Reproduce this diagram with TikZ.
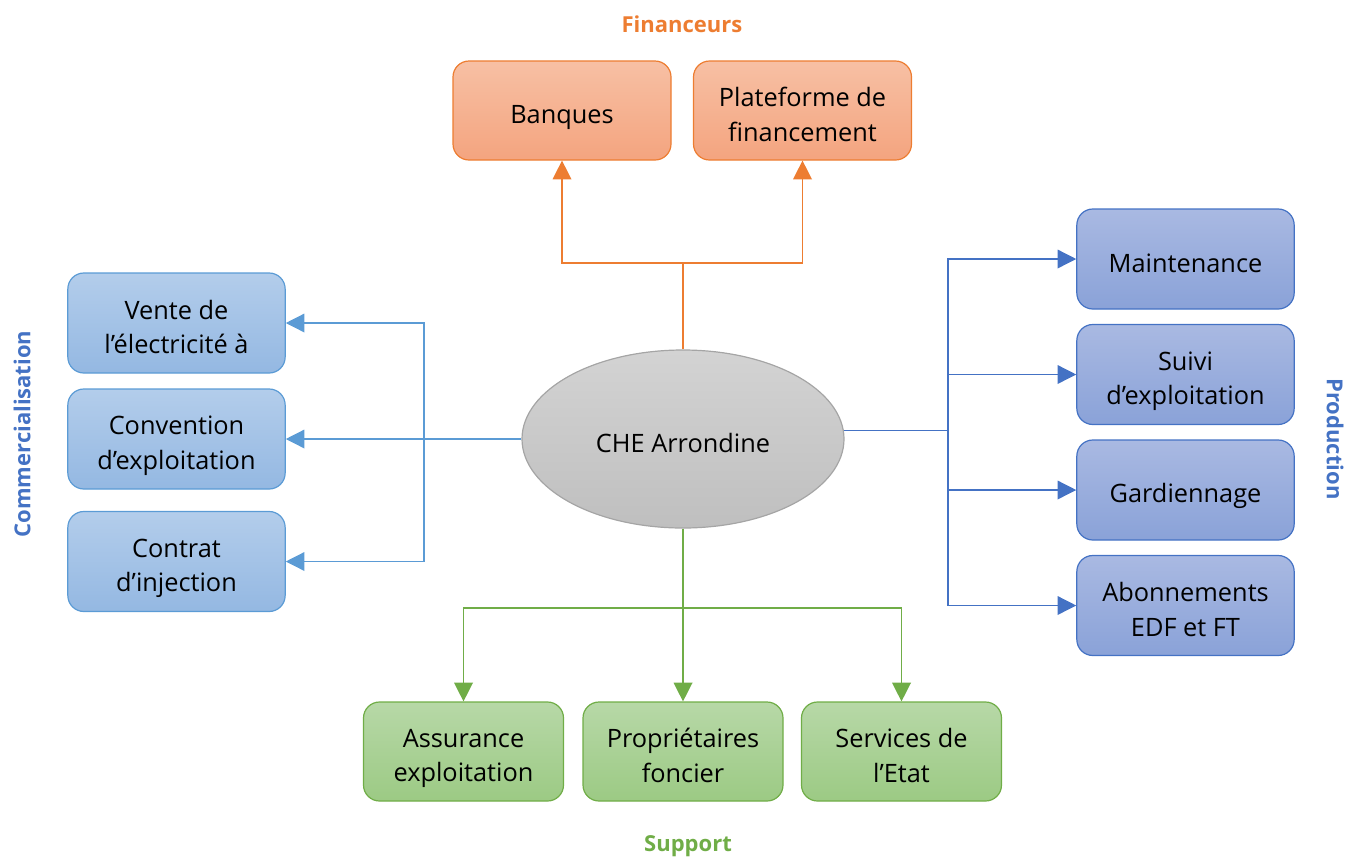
\documentclass[tikz,border=0pt]{standalone}
\usepackage{fontspec}
\setmainfont{Open Sans}
\usetikzlibrary{shapes.geometric,arrows.meta}
\definecolor{orB}{HTML}{ED7D31}
\definecolor{orT}{HTML}{F7C0A4}
\definecolor{orD}{HTML}{F4A47F}
\definecolor{lbB}{HTML}{5B9BD5}
\definecolor{lbT}{HTML}{B3CDEB}
\definecolor{lbD}{HTML}{94B8E2}
\definecolor{rbB}{HTML}{4472C4}
\definecolor{rbT}{HTML}{A9B9E2}
\definecolor{rbD}{HTML}{8AA2D8}
\definecolor{grB}{HTML}{70AD47}
\definecolor{grT}{HTML}{B7D8A7}
\definecolor{grD}{HTML}{9CCA84}
\definecolor{gyB}{HTML}{A5A5A5}
\definecolor{gyT}{HTML}{D3D3D3}
\definecolor{gyD}{HTML}{BFBFBF}
\definecolor{ttlB}{HTML}{4472C4}
\newcommand{\tst}{\rule{0pt}{24pt}}
\newcommand{\bst}{\rule[-4pt]{0pt}{4pt}}
\begin{document}
\begin{tikzpicture}[x=0.75pt,y=-0.75pt,
  box/.style={rounded corners=12pt, draw, line width=0.9pt, align=center,
    font=\fontsize{19}{26}\selectfont, inner sep=0pt},
  orbox/.style={box, draw=orB, top color=orT, bottom color=orD, minimum width=163.5pt, minimum height=74.25pt},
  lbbox/.style={box, draw=lbB, top color=lbT, bottom color=lbD, minimum width=163pt, minimum height=75pt},
  rbbox/.style={box, draw=rbB, top color=rbT, bottom color=rbD, minimum width=163pt, minimum height=75pt},
  grbox/.style={box, draw=grB, top color=grT, bottom color=grD, minimum width=150pt, minimum height=74.25pt},
  ttl/.style={font=\fontsize{16.5}{20}\selectfont\bfseries},
  conn/.style={line width=1pt},
  arr/.style={conn, -{Triangle[length=14pt,width=14pt]}}
]
\useasboundingbox (0,0) rectangle (1346,858);

% center
\node[ellipse, draw=gyB, line width=0.9pt, top color=gyT, bottom color=gyD,
  minimum width=241.5pt, minimum height=133.5pt, inner sep=0pt,
  font=\fontsize{19}{26}\selectfont] (che) at (683,439) {\tst CHE Arrondine\bst};

% Financeurs
\node[ttl, text=orB] (tfin) at (682,24) {Financeurs};
\node[orbox] (banq) at (562,110.5) {\tst Banques\bst};
\node[orbox] (plat) at (802.5,110.5) {\tst Plateforme de\\financement\bst};

% Commercialisation
\node[ttl, text=ttlB, rotate=90] (tcom) at (22,434) {Commercialisation};
\node[lbbox] (vente) at (176.5,323) {\tst Vente de\\l’électricité à\bst};
\node[lbbox] (conv) at (176.5,439) {\tst Convention\\d’exploitation\bst};
\node[lbbox] (contr) at (176.5,561.5) {\tst Contrat\\d’injection\bst};

% Production
\node[ttl, text=ttlB, rotate=-90] (tprod) at (1335,439) {Production};
\node[rbbox] (maint) at (1185.5,259) {\tst Maintenance\bst};
\node[rbbox] (suivi) at (1185.5,374.5) {\tst Suivi\\d’exploitation\bst};
\node[rbbox] (gard) at (1185.5,490) {\tst Gardiennage\bst};
\node[rbbox] (abon) at (1185.5,605.5) {\tst Abonnements\\EDF et FT\bst};

% Support
\node[grbox] (assur) at (463.5,751.5) {\tst Assurance\\exploitation\bst};
\node[grbox] (prop) at (683,751.5) {\tst Propriétaires\\foncier\bst};
\node[grbox] (serv) at (901.5,751.5) {\tst Services de\\l’Etat\bst};
\node[ttl, text=grB] (tsup) at (688,846) {Support};

% orange connectors
\coordinate (oj) at (683,263);
\draw[conn, orB] (che.north) -- (oj);
\draw[arr, orB] (oj) -| (banq.south);
\draw[arr, orB] (oj) -| (plat.south);

% left connectors
\coordinate (lj) at (424,439);
\draw[arr, lbB] (che.west) -- (conv.east);
\draw[arr, lbB] (lj) |- (vente.east);
\draw[arr, lbB] (lj) |- (contr.east);

% right connectors
\coordinate (rx) at (948,0);
\coordinate (rj) at (che.3 -| rx);
\draw[conn, rbB] (che.3) -- (rj);
\draw[arr, rbB] (rj) |- (maint.west);
\draw[arr, rbB] (rj) |- (suivi.west);
\draw[arr, rbB] (rj) |- (gard.west);
\draw[arr, rbB] (rj) |- (abon.west);

% green connectors
\coordinate (gj) at (683,608);
\draw[conn, grB] (che.south) -- (gj);
\draw[arr, grB] (gj) -| (assur.north);
\draw[arr, grB] (gj) -- (prop.north);
\draw[arr, grB] (gj) -| (serv.north);
\end{tikzpicture}
\end{document}
